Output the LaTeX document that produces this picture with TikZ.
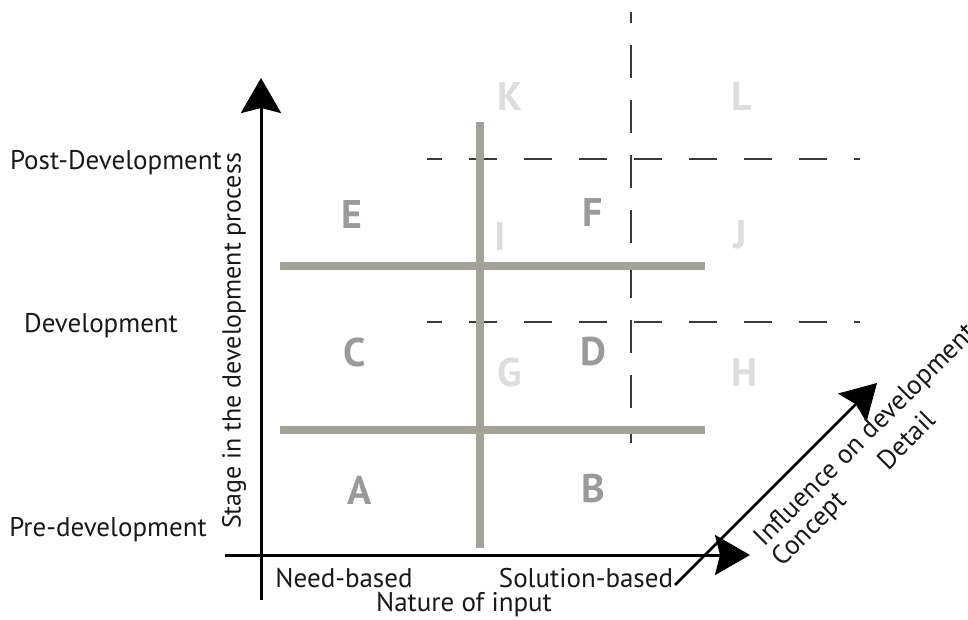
\documentclass[tikz,border=0pt]{standalone}
\usepackage{fontspec}
\setmainfont{PT Sans}
\usetikzlibrary{arrows.meta}
\definecolor{gridgray}{HTML}{A3A39B}
\definecolor{lettdark}{HTML}{9A9A9A}
\definecolor{lettlight}{HTML}{DDDDDD}
\definecolor{dashcol}{HTML}{3A3A3A}
\tikzset{
  axisline/.style={line width=3pt, black, -{Stealth[length=35pt,width=40pt,inset=5pt]}},
  gridline/.style={line width=8pt, gridgray},
  dashline/.style={line width=1.5pt, dashcol, dash pattern=on 28pt off 27pt},
  bigletter/.style={font=\fontsize{40}{40}\selectfont\bfseries, text=lettdark, inner sep=0pt},
  faintletter/.style={font=\fontsize{40}{40}\selectfont\bfseries, text=lettlight, inner sep=0pt},
  lbl/.style={font=\fontsize{27}{27}\selectfont, inner sep=0pt, text=black!90},
}
\begin{document}
\begin{tikzpicture}[x=1pt,y=-1pt]
\useasboundingbox (0,0) rectangle (968,620);
% dashed lines
\coordinate (d1a) at (427,159); \coordinate (d1b) at (860,159);
\coordinate (d2a) at (427,322); \coordinate (d2b) at (860,322);
\coordinate (dva) at (631,12);  \coordinate (dvb) at (631,443);
\draw[dashline, dash phase=13pt] (d1a) -- (d1b);
\draw[dashline, dash phase=13pt] (d2a) -- (d2b);
\draw[dashline, dash pattern=on 33pt off 22pt, dash phase=22pt] (dva) -- (dvb);
% grey grid
\coordinate (gva) at (480,122); \coordinate (gvb) at (480,548);
\coordinate (gh1a) at (280,266); \coordinate (gh1b) at (705,266);
\coordinate (gh2a) at (280,430); \coordinate (gh2b) at (705,430);
\draw[gridline] (gh1a) -- (gh1b);
\draw[gridline] (gh2a) -- (gh2b);
\draw[gridline] (gva) -- (gvb);
% axes
\coordinate (ya) at (261,600); \coordinate (yb) at (261,78);
\coordinate (xa) at (225,555); \coordinate (xb) at (750,555);
\coordinate (za) at (675,585); \coordinate (zb) at (877,383);
\draw[axisline] (ya) -- (yb);
\draw[axisline] (xa) -- (xb);
\draw[axisline, line width=2.5pt] (za) -- (zb);
% letters
\node[bigletter] (A) at (360,490) {A};
\node[bigletter] (B) at (593,488) {B};
\node[bigletter] (C) at (355,352) {C};
\node[bigletter] (D) at (593,352) {D};
\node[bigletter] (E) at (352,215) {E};
\node[bigletter] (F) at (593,213) {F};
\node[faintletter] (G) at (510,372) {G};
\node[faintletter] (H) at (745,372) {H};
\node[faintletter] (I) at (500,237) {I};
\node[faintletter] (J) at (740,235) {J};
\node[faintletter] (K) at (510,97) {K};
\node[faintletter] (L) at (742,97) {L};
% labels
\node[lbl, anchor=east] (post) at (222,163) {Post-Development};
\node[lbl] (dev) at (101,326) {Development};
\node[lbl] (pre) at (108,530) {Pre-development};
\node[lbl, rotate=90, font=\fontsize{26}{26}\selectfont] (stage) at (234,341) {Stage in the development process};
\node[lbl] (need) at (344,578) {Need-based};
\node[lbl] (sol) at (586,578) {Solution-based};
\node[lbl] (nat) at (464,605) {Nature of input};
\node[lbl, rotate=45] (infl) at (866,436) {Influence on development};
\node[lbl, rotate=45] (conc) at (810,530) {Concept};
\node[lbl, rotate=45] (det) at (906,440) {Detail};
\end{tikzpicture}
\end{document}
